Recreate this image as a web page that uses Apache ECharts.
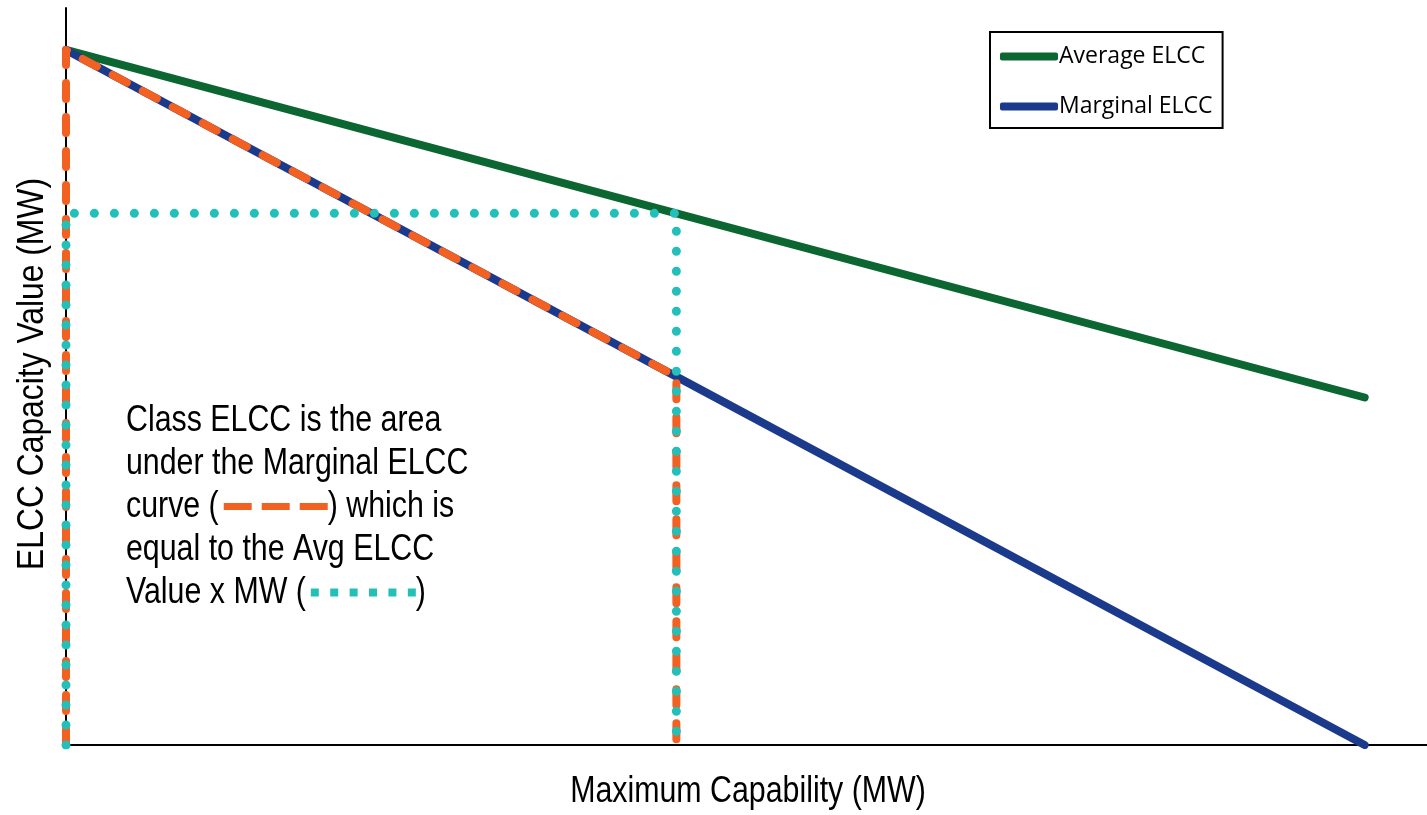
<!DOCTYPE html>
<html>
<head>
<meta charset="utf-8">
<script src="https://cdn.jsdelivr.net/npm/echarts@6/dist/echarts.min.js"></script>
<style>
  html, body { margin: 0; padding: 0; background: #fff; }
  #chart { width: 1427px; height: 815px; }
</style>
</head>
<body>
<div id="chart"></div>
<script>
// capability points (MW, relative units) and ELCC values
var capX = [0, 47, 100];
var avgElcc = [100, 76.5, 50];
var margElcc = [100, 53, 0];
var seriesNames = ["Average ELCC", "Marginal ELCC"];
var xTitle = "Maximum Capability (MW)";
var yTitle = "ELCC Capacity Value (MW)";

var sans = "'Liberation Sans', Arial, sans-serif";
var sx = 0.82; // squeeze to look like a narrow face

function pairs(xs, ys) {
  var out = [];
  for (var i = 0; i < xs.length; i++) out.push([xs[i], ys[i]]);
  return out;
}

// area under marginal curve (dashed) and avg value x MW box (dotted)
var classPath = [[capX[0], 0], [capX[0], margElcc[0]], [capX[1], margElcc[1]], [capX[1], 0]];
var boxPath = [[capX[0], 0], [capX[0], avgElcc[1]], [capX[1], avgElcc[1]], [capX[1], 0]];

var chart = echarts.init(document.getElementById("chart"));

var option = {
  animation: false,
  grid: { left: 66, top: 8, right: 0, bottom: 70 },
  legend: {
    data: seriesNames,
    orient: "vertical",
    left: 990,
    top: 32,
    padding: [13, 10, 10, 10],
    itemGap: 27,
    itemWidth: 58,
    itemHeight: 8,
    icon: "roundRect",
    borderColor: "#000",
    borderWidth: 2,
    textStyle: { fontSize: 23, color: "#000", fontFamily: "'Open Sans', sans-serif", padding: [0, 0, 0, -4] }
  },
  xAxis: [
    {
      type: "value",
      min: 0,
      max: 104.8,
      axisLine: { show: true, onZero: false, lineStyle: { color: "#000", width: 2 } },
      axisTick: { show: false },
      axisLabel: { show: false },
      splitLine: { show: false }
    },
    {
      type: "value",
      position: "top",
      min: 0,
      max: 104.8,
      axisLine: { show: true, lineStyle: { color: "#000", width: 2 } },
      axisTick: { show: false },
      axisLabel: { show: false },
      splitLine: { show: false }
    }
  ],
  yAxis: {
    type: "value",
    min: 0,
    max: 106.04,
    axisLine: { show: true, onZero: false, lineStyle: { color: "#000", width: 2 } },
    axisTick: { show: false },
    axisLabel: { show: false },
    splitLine: { show: false }
  },
  series: [
    {
      name: seriesNames[0],
      type: "line",
      data: pairs(capX, avgElcc),
      symbol: "none",
      lineStyle: { color: "#0C6632", width: 8, cap: "round" },
      itemStyle: { color: "#0C6632" }
    },
    {
      name: seriesNames[1],
      type: "line",
      data: pairs(capX, margElcc),
      symbol: "none",
      lineStyle: { color: "#1B3A8C", width: 8, cap: "round" },
      itemStyle: { color: "#1B3A8C" }
    },
    {
      name: "class",
      type: "line",
      data: classPath,
      symbol: "none",
      lineStyle: { color: "#F26122", width: 8, type: [16, 18], cap: "round", join: "round" }
    },
    {
      name: "box",
      type: "line",
      data: boxPath,
      symbol: "none",
      lineStyle: { color: "#22C0B9", width: 9, type: [0.1, 19.9], cap: "round" }
    }
  ],
  graphic: [
    {
      type: "text",
      x: 748,
      y: 792,
      scaleX: sx,
      style: { text: xTitle, font: "37px " + sans, fill: "#000", align: "center", verticalAlign: "middle" }
    },
    {
      type: "text",
      x: 33,
      y: 374,
      rotation: Math.PI / 2,
      scaleX: 0.86,
      style: { text: yTitle, font: "37px " + sans, fill: "#000", align: "center", verticalAlign: "middle" }
    },
    {
      type: "text",
      x: 126,
      y: 399,
      scaleX: sx,
      style: {
        text: [
          "Class ELCC is the area",
          "under the Marginal ELCC",
          "curve ({g|}{o|}{s|}{o|}{s|}{o|}) which is",
          "equal to the Avg ELCC",
          "Value x MW ({g|}{t|}{u|}{t|}{u|}{t|}{u|}{t|}{u|}{t|}{u|}{t|})"
        ].join("\n"),
        font: "37px " + sans,
        fill: "#000",
        lineHeight: 43,
        rich: {
          o: { width: 28 / sx, height: 7, backgroundColor: "#F26122", lineHeight: 43 },
          s: { width: 10 / sx, height: 7, lineHeight: 43 },
          g: { width: 5 / sx, height: 7, lineHeight: 43 },
          t: { width: 8 / sx, height: 8, backgroundColor: "#22C0B9", lineHeight: 43 },
          u: { width: 11.4 / sx, height: 8, lineHeight: 43 }
        }
      }
    }
  ]
};

chart.setOption(option);
</script>
</body>
</html>
